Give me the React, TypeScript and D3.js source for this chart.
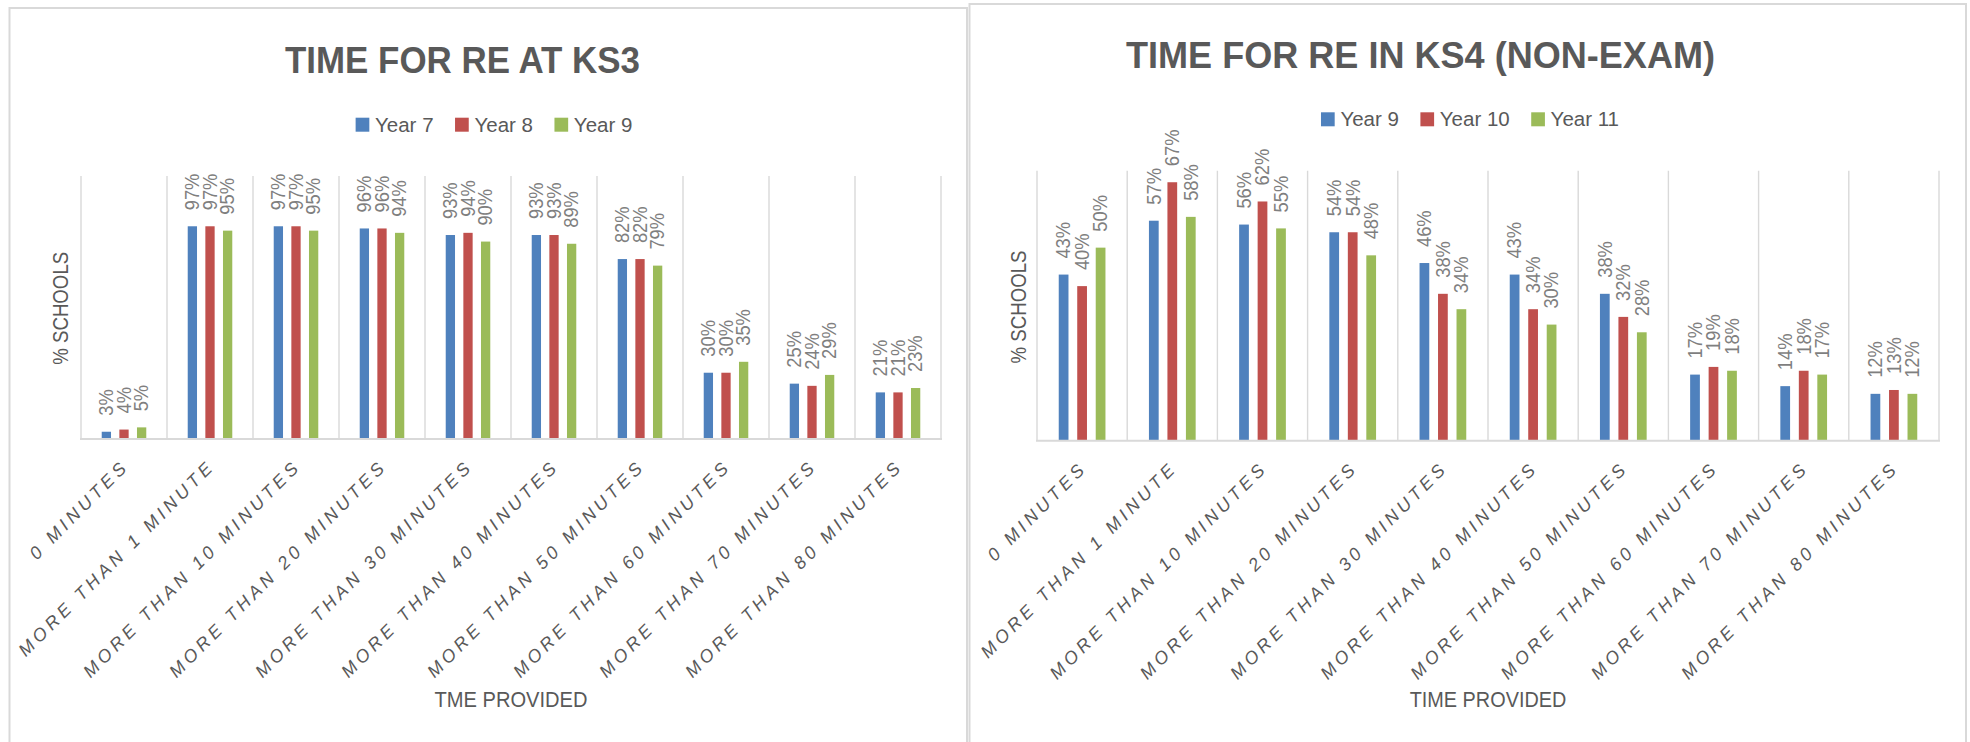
import React from 'react';
import * as d3 from 'd3';

// Category axis labels (shared by both charts)
const categories = [
  '0 MINUTES',
  'MORE THAN 1 MINUTE',
  'MORE THAN 10 MINUTES',
  'MORE THAN 20 MINUTES',
  'MORE THAN 30 MINUTES',
  'MORE THAN 40 MINUTES',
  'MORE THAN 50 MINUTES',
  'MORE THAN 60 MINUTES',
  'MORE THAN 70 MINUTES',
  'MORE THAN 80 MINUTES',
];

// KS3 chart
const ks3Names = ['Year 7', 'Year 8', 'Year 9'];
const ks3Year7 = [0.03, 0.97, 0.97, 0.96, 0.93, 0.93, 0.82, 0.3, 0.25, 0.21];
const ks3Year8 = [0.04, 0.97, 0.97, 0.96, 0.94, 0.93, 0.82, 0.3, 0.24, 0.21];
const ks3Year9 = [0.05, 0.95, 0.95, 0.94, 0.9, 0.89, 0.79, 0.35, 0.29, 0.23];

// KS4 (non-exam) chart
const ks4Names = ['Year 9', 'Year 10', 'Year 11'];
const ks4Year9 = [0.43, 0.57, 0.56, 0.54, 0.46, 0.43, 0.38, 0.17, 0.14, 0.12];
const ks4Year10 = [0.4, 0.67, 0.62, 0.54, 0.38, 0.34, 0.32, 0.19, 0.18, 0.13];
const ks4Year11 = [0.5, 0.58, 0.55, 0.48, 0.34, 0.3, 0.28, 0.18, 0.17, 0.12];

const seriesColors = ['#4f81bd', '#c0504d', '#9bbb59'];

const FONT = '"Liberation Sans", Arial, sans-serif';
const TEXT_DARK = '#595959';
const LABEL_GREY = '#7f7f7f';
const GRID = '#d9d9d9';

const pct = d3.format('.0%');

function measure(text: string, font: string): number {
  const ctx = document.createElement('canvas').getContext('2d');
  if (!ctx) return text.length * 10;
  ctx.font = font;
  return ctx.measureText(text).width;
}

type PanelProps = {
  frame: { x0: number; y0: number; x1: number; y1: number };
  plot: { left: number; right: number; top: number; bottom: number };
  yMax: number;
  title: string;
  titleStart: number;
  titleEnd: number;
  titleBaseline: number;
  names: string[];
  series: number[][];
  legendCenter: number;
  legendTop: number;
  xTitle: string;
  xTitleWidth: number;
  xTitleBaseline: number;
  yTitleX: number;
  yTitleY: number;
};

function Panel(p: PanelProps) {
  const x = d3
    .scaleBand<string>()
    .domain(categories)
    .range([p.plot.left, p.plot.right])
    .paddingInner(0)
    .paddingOuter(0);
  const y = d3.scaleLinear().domain([0, p.yMax]).range([p.plot.bottom, p.plot.top]);
  const bw = x.bandwidth();
  const step = bw * 0.205;
  const barW = bw * 0.108;

  // legend layout
  const legendFontSize = 20.5;
  const legendFont = `${legendFontSize}px ${FONT}`;
  const sw = 13.7;
  const swGap = 5.7;
  const itemGap = 21.5;
  const widths = p.names.map((n) => sw + swGap + measure(n, legendFont));
  const total = d3.sum(widths) + itemGap * (p.names.length - 1);
  let cursor = p.legendCenter - total / 2;
  const legendItems = p.names.map((n, i) => {
    const item = { name: n, x: cursor, color: seriesColors[i] };
    cursor += widths[i] + itemGap;
    return item;
  });

  const boundaries = [...categories.map((c) => x(c) as number), p.plot.right];

  return (
    <g>
      <rect
        x={p.frame.x0}
        y={p.frame.y0}
        width={p.frame.x1 - p.frame.x0}
        height={p.frame.y1 - p.frame.y0}
        fill="#ffffff"
        stroke={GRID}
        strokeWidth={2}
      />
      {/* title */}
      <text
        x={p.titleStart}
        y={p.titleBaseline}
        fontFamily={FONT}
        fontWeight="bold"
        fontSize={37}
        fill={TEXT_DARK}
        textLength={p.titleEnd - p.titleStart}
        lengthAdjust="spacingAndGlyphs"
      >
        {p.title}
      </text>
      {/* legend */}
      {legendItems.map((it) => (
        <g key={it.name}>
          <rect x={it.x} y={p.legendTop} width={sw} height={14} fill={it.color} />
          <text
            x={it.x + sw + swGap}
            y={p.legendTop + 14}
            fontFamily={FONT}
            fontSize={legendFontSize}
            fill={TEXT_DARK}
          >
            {it.name}
          </text>
        </g>
      ))}
      {/* vertical category gridlines */}
      {boundaries.map((bx, i) => (
        <line
          key={i}
          x1={bx}
          x2={bx}
          y1={p.plot.top}
          y2={p.plot.bottom}
          stroke={GRID}
          strokeWidth={1.4}
        />
      ))}
      {/* bars */}
      {p.series.map((vals, si) =>
        vals.map((v, ci) => {
          const cx = (x(categories[ci]) as number) + bw / 2 + (si - 1) * step;
          return (
            <rect
              key={`b${si}-${ci}`}
              x={cx - barW / 2}
              y={y(v)}
              width={barW}
              height={p.plot.bottom - y(v)}
              fill={seriesColors[si]}
            />
          );
        })
      )}
      {/* category axis line */}
      <line
        x1={p.plot.left - 1}
        x2={p.plot.right + 1}
        y1={p.plot.bottom + 0.8}
        y2={p.plot.bottom + 0.8}
        stroke={GRID}
        strokeWidth={2}
      />
      {/* data labels */}
      {p.series.map((vals, si) =>
        vals.map((v, ci) => {
          const cx = (x(categories[ci]) as number) + bw / 2 + (si - 1) * step;
          const ty = y(v) - 16;
          return (
            <text
              key={`l${si}-${ci}`}
              transform={`translate(${cx},${ty}) rotate(-90) scale(0.94,1)`}
              dy="0.35em"
              fontFamily={FONT}
              fontSize={19.5}
              fill={LABEL_GREY}
            >
              {pct(v)}
            </text>
          );
        })
      )}
      {/* category tick labels */}
      {categories.map((c) => {
        const cx = (x(c) as number) + bw / 2;
        return (
          <text
            key={c}
            transform={`translate(${cx + 6},${p.plot.bottom + 29}) rotate(-45)`}
            textAnchor="end"
            fontFamily={FONT}
            fontStyle="italic"
            fontSize={18}
            letterSpacing={4}
            fill={TEXT_DARK}
          >
            {c}
          </text>
        );
      })}
      {/* axis titles */}
      <text
        x={(p.plot.left + p.plot.right) / 2 - p.xTitleWidth / 2}
        y={p.xTitleBaseline}
        fontFamily={FONT}
        fontSize={22}
        fill={TEXT_DARK}
        textLength={p.xTitleWidth}
        lengthAdjust="spacingAndGlyphs"
      >
        {p.xTitle}
      </text>
      <text
        transform={`translate(${p.yTitleX},${p.yTitleY}) rotate(-90)`}
        x={-56.5}
        dy="0.35em"
        fontFamily={FONT}
        fontSize={21.5}
        fill={TEXT_DARK}
        textLength={113}
        lengthAdjust="spacingAndGlyphs"
      >
        % SCHOOLS
      </text>
    </g>
  );
}

export default function App() {
  return (
    <svg
      width={1970}
      height={742}
      style={{ position: 'absolute', left: 0, top: 0, display: 'block', background: '#ffffff' }}
    >
      <rect x={0} y={0} width={1970} height={742} fill="#ffffff" />
      <Panel
        frame={{ x0: 9.5, y0: 8, x1: 967, y1: 760 }}
        plot={{ left: 81, right: 941, top: 176, bottom: 438.3 }}
        yMax={1.2}
        title="TIME FOR RE AT KS3"
        titleStart={285}
        titleEnd={640}
        titleBaseline={73.3}
        names={ks3Names}
        series={[ks3Year7, ks3Year8, ks3Year9]}
        legendCenter={494}
        legendTop={117.7}
        xTitle="TME PROVIDED"
        xTitleWidth={153}
        xTitleBaseline={706.7}
        yTitleX={60}
        yTitleY={308.3}
      />
      <Panel
        frame={{ x0: 969.5, y0: 4, x1: 1966, y1: 760 }}
        plot={{ left: 1037, right: 1939, top: 170.7, bottom: 440 }}
        yMax={0.7}
        title="TIME FOR RE IN KS4 (NON-EXAM)"
        titleStart={1126}
        titleEnd={1715}
        titleBaseline={67.7}
        names={ks4Names}
        series={[ks4Year9, ks4Year10, ks4Year11]}
        legendCenter={1470}
        legendTop={112.3}
        xTitle="TIME PROVIDED"
        xTitleWidth={156.7}
        xTitleBaseline={707.3}
        yTitleX={1018}
        yTitleY={307}
      />
    </svg>
  );
}
